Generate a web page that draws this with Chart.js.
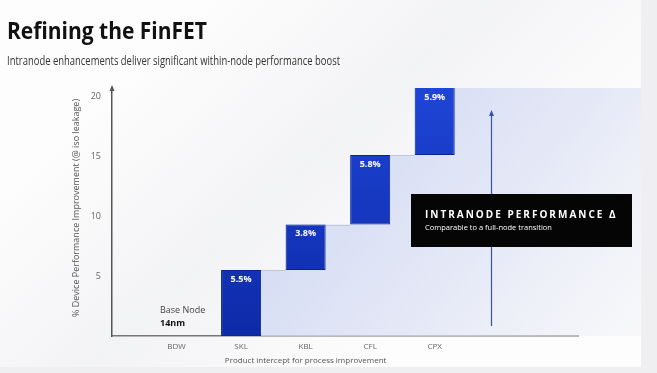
<!DOCTYPE html>
<html>
<head>
<meta charset="utf-8">
<script src="https://cdn.jsdelivr.net/npm/chart.js@4"></script>
<style>
  html, body { margin: 0; padding: 0; background: #f4f4f5; }
  canvas { display: block; }
</style>
</head>
<body>
<canvas id="finfet" width="657" height="373"></canvas>
<script>
// products on the x axis (BDW is the base node, no bar)
const products = ["BDW", "SKL", "KBL", "CFL", "CPX"];
// performance gain of each product over the previous one (%)
const gains = [0, 5.5, 3.8, 5.8, 5.9];
const yTicks = [5, 10, 15, 20];

// floating bars: each one starts where the previous ended
const bars = [];
let running = 0;
for (let i = 1; i < products.length; i++) {
  bars.push({ x: i + 1, y: [running, running + gains[i]], label: gains[i].toFixed(1) + "%" });
  running += gains[i];
}

const FONT = "'Open Sans', 'Noto Sans', sans-serif";

// draw text squeezed to a given width (the slide font is narrow)
function fitText(ctx, text, x, y, width) {
  const w = ctx.measureText(text).width;
  ctx.save();
  ctx.translate(x, y);
  ctx.scale(Math.min(1, width / w), 1);
  ctx.fillText(text, 0, 0);
  ctx.restore();
}

// background, tinted staircase area, connectors
const backdropPlugin = {
  id: "backdrop",
  beforeDraw(chart) {
    const { ctx } = chart;
    ctx.save();
    ctx.fillStyle = "#efeff2";
    ctx.fillRect(0, 0, chart.width, chart.height);
    ctx.fillStyle = "#fdfdfd";
    ctx.fillRect(0, 0, 641, 367);
    // soft diagonal shade
    const sh = ctx.createLinearGradient(150, 40, 420, 330);
    sh.addColorStop(0, "rgba(235,235,240,0)");
    sh.addColorStop(0.5, "rgba(232,233,238,0.5)");
    sh.addColorStop(1, "rgba(235,235,240,0)");
    ctx.fillStyle = sh;
    ctx.fillRect(0, 0, 641, 367);
    ctx.restore();
  },
  beforeDatasetsDraw(chart) {
    const { ctx, chartArea } = chart;
    const els = chart.getDatasetMeta(0).data;
    ctx.save();
    ctx.beginPath();
    const first = els[0];
    ctx.moveTo(first.x + first.width / 2, chartArea.bottom);
    for (let i = 0; i < els.length; i++) {
      const e = els[i];
      const top = Math.max(e.y, chartArea.top);
      const right = e.x + e.width / 2;
      if (i === 0) ctx.lineTo(right, top);
      const next = els[i + 1];
      if (next) {
        const nl = next.x - next.width / 2;
        ctx.lineTo(nl, top);
        ctx.lineTo(nl, Math.max(next.y, chartArea.top));
      } else {
        ctx.lineTo(641, top);
      }
    }
    ctx.lineTo(641, chartArea.bottom);
    ctx.closePath();
    const g = ctx.createLinearGradient(300, 90, 620, 340);
    g.addColorStop(0, "rgba(200,210,242,0.85)");
    g.addColorStop(0.6, "rgba(222,227,245,0.75)");
    g.addColorStop(1, "rgba(240,241,246,0.5)");
    ctx.fillStyle = g;
    ctx.fill();

    // thin connectors between bar tops
    ctx.strokeStyle = "rgba(190,195,210,0.9)";
    ctx.lineWidth = 1;
    for (let i = 0; i < els.length - 1; i++) {
      const e = els[i], n = els[i + 1];
      const y = Math.round(e.y) + 0.5;
      ctx.beginPath();
      ctx.moveTo(e.x + e.width / 2, y);
      ctx.lineTo(n.x - n.width / 2, y);
      ctx.stroke();
    }
    ctx.restore();
  },
  afterDraw(chart) {
    const { ctx, chartArea, scales } = chart;
    const els = chart.getDatasetMeta(0).data;
    ctx.save();

    // value labels inside the bars
    ctx.fillStyle = "#ffffff";
    ctx.font = "bold 9px " + FONT;
    ctx.textAlign = "center";
    ctx.textBaseline = "middle";
    els.forEach((e, i) => {
      ctx.fillText(bars[i].label, e.x, Math.max(e.y, chartArea.top) + 9);
    });

    // y axis arrow head
    ctx.fillStyle = "#555";
    ctx.beginPath();
    ctx.moveTo(chartArea.left, chartArea.top - 3);
    ctx.lineTo(chartArea.left - 2.5, chartArea.top + 3);
    ctx.lineTo(chartArea.left + 2.5, chartArea.top + 3);
    ctx.closePath();
    ctx.fill();

    // title and subtitle
    ctx.textAlign = "left";
    ctx.textBaseline = "alphabetic";
    ctx.fillStyle = "#111";
    ctx.font = "bold 24px " + FONT;
    fitText(ctx, "Refining the FinFET", 7, 39, 200);
    ctx.fillStyle = "#333";
    ctx.font = "12px " + FONT;
    fitText(ctx, "Intranode enhancements deliver significant within-node performance boost", 7, 65, 333);

    // axis titles
    ctx.fillStyle = "#555";
    ctx.font = "8px " + FONT;
    ctx.textAlign = "center";
    ctx.fillText("Product intercept for process improvement", scales.x.getPixelForValue(3), 363);
    ctx.save();
    ctx.translate(76, 208);
    ctx.rotate(-Math.PI / 2);
    ctx.textBaseline = "middle";
    ctx.font = "9px " + FONT;
    fitText(ctx, "% Device Performance Improvement (@ iso leakage)", 0, 0, 225);
    ctx.restore();

    // base node note
    ctx.textAlign = "left";
    ctx.textBaseline = "alphabetic";
    ctx.fillStyle = "#444";
    ctx.font = "9px " + FONT;
    ctx.fillText("Base Node", 160, 313);
    ctx.fillStyle = "#111";
    ctx.font = "bold 9px " + FONT;
    ctx.fillText("14nm", 160, 326);

    // blue arrow
    ctx.strokeStyle = "#3552b8";
    ctx.lineWidth = 1.2;
    ctx.beginPath();
    ctx.moveTo(491.5, 326);
    ctx.lineTo(491.5, 114);
    ctx.stroke();
    ctx.fillStyle = "#3552b8";
    ctx.beginPath();
    ctx.moveTo(491.5, 110);
    ctx.lineTo(489, 116);
    ctx.lineTo(494, 116);
    ctx.closePath();
    ctx.fill();

    // callout box
    ctx.fillStyle = "#050505";
    ctx.fillRect(411, 194, 221, 53);
    ctx.fillStyle = "#fff";
    ctx.font = "bold 10px " + FONT;
    ctx.letterSpacing = "2px";
    ctx.fillText("INTRANODE PERFORMANCE \u0394", 425, 218);
    ctx.letterSpacing = "0px";
    ctx.font = "7.5px " + FONT;
    ctx.fillText("Comparable to a full-node transition", 425, 230);

    ctx.restore();
  }
};

const config = {
  type: "bar",
  data: {
    datasets: [{
      data: bars,
      backgroundColor(c) {
        const area = c.chart.chartArea;
        if (!area) return "#1436c4";
        const g = c.chart.ctx.createLinearGradient(0, area.top, 0, area.bottom);
        g.addColorStop(0, "#1f45d6");
        g.addColorStop(1, "#0d2aa8");
        return g;
      },
      borderColor: "#0b2490",
      borderWidth: 1,
      borderSkipped: false,
      barPercentage: 0.62,
      categoryPercentage: 1,
      clip: 0
    }]
  },
  options: {
    responsive: false,
    animation: false,
    layout: { padding: { left: 82, top: 88, right: 79, bottom: 0 } },
    plugins: { legend: { display: false }, tooltip: { enabled: false } },
    scales: {
      x: {
        type: "linear",
        min: 0,
        max: 7.22,
        offset: false,
        grid: { display: false, drawTicks: false },
        border: { color: "#777", width: 1.5 },
        afterBuildTicks(scale) {
          scale.ticks = products.map((p, i) => ({ value: i + 1 }));
        },
        afterFit(scale) { scale.height = 37; },
        ticks: {
          padding: 6,
          color: "#666",
          font: { size: 8, family: FONT },
          callback: (v) => products[v - 1] || ""
        }
      },
      y: {
        min: 0,
        max: 20.7,
        grid: { display: false, drawTicks: false },
        border: { color: "#555", width: 1.5 },
        afterBuildTicks(scale) {
          scale.ticks = yTicks.map((v) => ({ value: v }));
        },
        afterFit(scale) { scale.width = 30; },
        ticks: {
          padding: 11,
          color: "#666",
          font: { size: 9, family: FONT }
        }
      }
    }
  },
  plugins: [backdropPlugin]
};

new Chart(document.getElementById("finfet"), config);
</script>
</body>
</html>
